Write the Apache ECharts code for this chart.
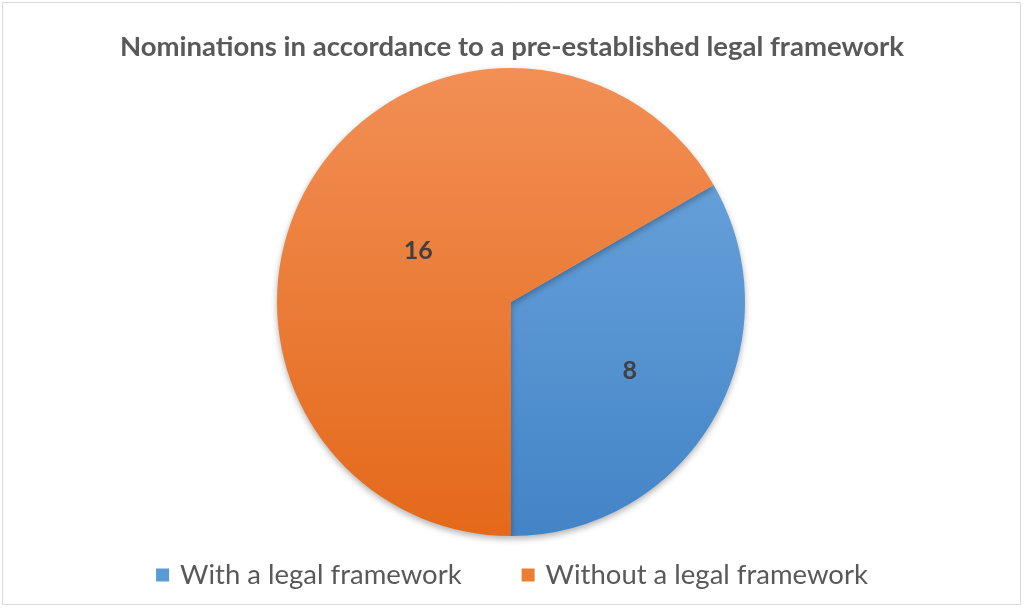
<!DOCTYPE html>
<html>
<head>
<meta charset="utf-8">
<script src="https://cdn.jsdelivr.net/npm/echarts@6/dist/echarts.min.js"></script>
<style>html,body{margin:0;padding:0;background:#fff;}#c{width:1024px;height:608px;}</style>
</head>
<body>
<div id="c"></div>
<script>
var titleText = 'Nominations in accordance to a pre-established legal framework';
var categories = ['With a legal framework', 'Without a legal framework'];
var values = [8, 16];
var colorsTop = ['#70a8de', '#f28f55'];
var colorsBottom = ['#4384c7', '#e4691a'];
var legendColors = ['#5b9bd5', '#ed7d31'];

var chart = echarts.init(document.getElementById('c'));
var data = categories.map(function (name, i) {
  return {
    name: name,
    value: values[i],
    itemStyle: {
      color: new echarts.graphic.LinearGradient(0, 68, 0, 536, [
        { offset: 0, color: colorsTop[i] },
        { offset: 1, color: colorsBottom[i] }
      ], true)
    }
  };
});
var labelData = categories.map(function (name, i) {
  return { name: name, value: values[i] };
});
chart.setOption({
  backgroundColor: '#fff',
  animation: false,
  title: {
    text: titleText,
    left: 'center',
    top: 28,
    textStyle: { fontFamily: 'Lato', fontWeight: 'bold', fontSize: 27.5, color: '#595959' }
  },
  legend: {
    bottom: 14,
    left: 'center',
    itemWidth: 13,
    itemHeight: 13,
    itemGap: 60,
    icon: 'rect',
    data: categories.map(function (n, i) { return { name: n, itemStyle: { color: legendColors[i] } }; }),
    textStyle: { fontFamily: 'Lato', fontSize: 27.5, color: '#595959', padding: [0, 0, 0, 6] }
  },
  graphic: [{
    type: 'rect',
    shape: { x: 2.5, y: 2.5, width: 1018, height: 602 },
    style: { fill: 'none', stroke: '#d9d9d9', lineWidth: 1 },
    silent: true
  }],
  series: [{
    type: 'pie',
    center: [511, 302],
    radius: [0, 234],
    startAngle: 30,
    clockwise: true,
    data: data,
    itemStyle: {
      borderWidth: 0,
      shadowBlur: 6,
      shadowOffsetY: 3,
      shadowColor: 'rgba(0,0,0,0.3)'
    },
    label: { show: false },
    labelLine: { show: false },
    emphasis: { disabled: true }
  }, {
    type: 'pie',
    center: [511, 302],
    radius: [34, 234],
    startAngle: 30,
    clockwise: true,
    silent: true,
    data: labelData,
    itemStyle: { color: 'rgba(0,0,0,0)', borderWidth: 0 },
    label: {
      show: true,
      position: 'inside',
      formatter: '{c}',
      fontFamily: 'Lato',
      fontWeight: 'bold',
      fontSize: 25,
      color: '#404040'
    },
    labelLayout: function (params) {
      if (params.dataIndex === 1) {
        return { dx: 26, dy: 17 };
      }
      return {};
    },
    labelLine: { show: false },
    emphasis: { disabled: true }
  }]
});
</script>
</body>
</html>
